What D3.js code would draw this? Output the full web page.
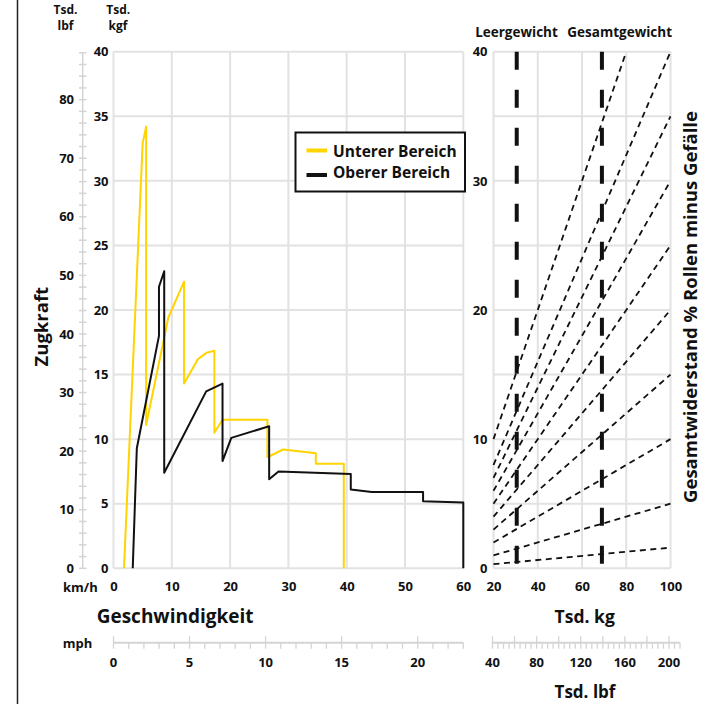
<!DOCTYPE html>
<html>
<head>
<meta charset="utf-8">
<script src="https://cdnjs.cloudflare.com/ajax/libs/d3/7.8.5/d3.min.js"></script>
<style>
body { margin: 0; background: #fff; }
svg { display: block; font-family: "Open Sans", sans-serif; font-weight: 700; fill: #111; }
</style>
</head>
<body>
<div id="chart"></div>
<script>
// tick values
const speedTicks = [0, 10, 20, 30, 40, 50, 60];
const forceTicks = [0, 5, 10, 15, 20, 25, 30, 35, 40];
const forceLabelsRight = [0, 10, 20, 30, 40];
const lbfLabels = [0, 10, 20, 30, 40, 50, 60, 70, 80];
const mphLabels = [0, 5, 10, 15, 20];
const kgTicks = [20, 40, 60, 80, 100];
const lbfBottomLabels = [40, 80, 120, 160, 200];

// Zugkraft curves (km/h, Tsd. kgf)
const unterSpeed = [1.8, 5.0, 5.6, 5.6, 9.4, 12.1, 12.1, 14.5, 16.0, 17.3, 17.3, 18.7, 26.4, 26.4, 29.1, 34.7, 34.7, 39.5, 39.5];
const unterForce = [0, 32.9, 34.2, 11.1, 19.4, 22.2, 14.3, 16.2, 16.7, 16.85, 10.5, 11.5, 11.5, 8.6, 9.2, 8.9, 8.1, 8.1, 0];
const oberSpeed = [3.3, 4.0, 7.8, 7.8, 8.7, 8.7, 15.9, 18.7, 18.7, 20.2, 26.7, 26.7, 28.3, 40.7, 40.7, 44.3, 53.1, 53.1, 60, 60];
const oberForce = [0, 9.3, 18.0, 21.8, 23.0, 7.4, 13.7, 14.3, 8.3, 10.1, 11.0, 6.9, 7.5, 7.3, 6.1, 5.9, 5.9, 5.2, 5.1, 0];

// Gesamtwiderstand in % (force = weight * percent / 100)
const gradePercents = [1.6, 5, 10, 15, 20, 25, 30, 35, 40, 50];
// Leergewicht / Gesamtgewicht in Tsd. kg
const weightMarks = [30.5, 69];
const weightNames = ["Leergewicht", "Gesamtgewicht"];

const yellow = "#ffd400";
const gridColor = "#e2e2e2";
const axisColor = "#d4d4d4";

const svg = d3.select("#chart").append("svg")
    .attr("width", 714)
    .attr("height", 704);

// scales
const x = d3.scaleLinear().domain([0, 60]).range([113.5, 463.3]);
const y = d3.scaleLinear().domain([0, 40]).range([568.3, 51.7]);
const yLbf = d3.scaleLinear().domain([0, 40 * 2.20462]).range([568.3, 51.7]);
const xMph = d3.scaleLinear().domain([0, 23]).range([113.5, 463.3]);
const xKg = d3.scaleLinear().domain([20, 100]).range([493.5, 670.5]);
const xLbf = d3.scaleLinear().domain([40, 210]).range([492.5, 680]);

// left frame line
svg.append("line")
    .attr("x1", 17.5).attr("x2", 17.5)
    .attr("y1", 0).attr("y2", 704)
    .attr("stroke", "#222").attr("stroke-width", 1.5);

// grids
function grid(xs, xTicks, ys, yTicks) {
    const g = svg.append("g").attr("stroke", gridColor).attr("stroke-width", 2);
    g.selectAll(".v").data(xTicks).enter().append("line")
        .attr("x1", d => xs(d)).attr("x2", d => xs(d))
        .attr("y1", ys.range()[0]).attr("y2", ys.range()[1]);
    g.selectAll(".h").data(yTicks).enter().append("line")
        .attr("x1", xs.range()[0]).attr("x2", xs.range()[1])
        .attr("y1", d => ys(d)).attr("y2", d => ys(d));
}
grid(x, speedTicks, y, forceTicks);
grid(xKg, kgTicks, y, forceTicks);

// axis label helper
function styleAxis(g, size) {
    g.select(".domain").remove();
    g.selectAll("text")
        .attr("fill", "#111")
        .style("font-size", size + "px")
        .style("font-weight", 700)
        .style("font-family", '"Open Sans", sans-serif');
}

svg.append("g")
    .attr("transform", "translate(0,568.3)")
    .call(d3.axisBottom(x).tickValues(speedTicks).tickSize(0).tickPadding(13.4))
    .call(g => styleAxis(g, 13));

svg.append("g")
    .attr("transform", "translate(113.5,0)")
    .call(d3.axisLeft(y).tickValues(forceTicks).tickSize(0).tickPadding(5))
    .call(g => styleAxis(g, 13));

svg.append("g")
    .attr("transform", "translate(0,568.3)")
    .call(d3.axisBottom(xKg).tickValues(kgTicks).tickSize(0).tickPadding(13.4))
    .call(g => styleAxis(g, 13));

svg.append("g")
    .attr("transform", "translate(493.5,0)")
    .call(d3.axisLeft(y).tickValues(forceLabelsRight).tickSize(0).tickPadding(6))
    .call(g => styleAxis(g, 13));

// left lbf axis
const lbfG = svg.append("g");
lbfG.append("line")
    .attr("x1", 82.7).attr("x2", 82.7)
    .attr("y1", yLbf(0)).attr("y2", yLbf(88))
    .attr("stroke", axisColor).attr("stroke-width", 1.5);
lbfG.selectAll(".t").data(d3.range(0, 89, 2)).enter().append("line")
    .attr("x1", 79).attr("x2", 86.5)
    .attr("y1", d => yLbf(d)).attr("y2", d => yLbf(d))
    .attr("stroke", axisColor).attr("stroke-width", 1.5);
lbfG.selectAll("text").data(lbfLabels).enter().append("text")
    .attr("x", 74).attr("y", d => yLbf(d))
    .attr("dy", "0.35em")
    .attr("text-anchor", "end")
    .style("font-size", "13px")
    .text(d => d);

// bottom secondary axes (mph, Tsd. lbf)
function secondaryAxis(scale, ticks, majorEvery, labels) {
    const g = svg.append("g");
    g.append("line")
        .attr("x1", scale.range()[0]).attr("x2", scale.range()[1])
        .attr("y1", 642.7).attr("y2", 642.7)
        .attr("stroke", axisColor).attr("stroke-width", 2);
    g.selectAll(".t").data(ticks).enter().append("line")
        .attr("x1", d => scale(d)).attr("x2", d => scale(d))
        .attr("y1", d => d % majorEvery === 0 ? 636.2 : 642.7)
        .attr("y2", 648.7)
        .attr("stroke", axisColor).attr("stroke-width", 1.3);
    g.selectAll("text").data(labels).enter().append("text")
        .attr("x", d => scale(d)).attr("y", 667.3)
        .attr("text-anchor", "middle")
        .style("font-size", "13px")
        .text(d => d);
}
secondaryAxis(xMph, d3.range(0, 24, 1), 5, mphLabels);
secondaryAxis(xLbf, d3.range(40, 211, 5), 20, lbfBottomLabels);

// resistance lines
const lineR = d3.line().x(d => xKg(d[0])).y(d => y(d[1]));
svg.append("g").selectAll("path").data(gradePercents).enter().append("path")
    .attr("d", p => {
        const wEnd = Math.min(100, 40 * 100 / p);
        return lineR([[20, 20 * p / 100], [wEnd, wEnd * p / 100]]);
    })
    .attr("fill", "none")
    .attr("stroke", "#111")
    .attr("stroke-width", 1.8)
    .attr("stroke-dasharray", "6,4.5");

// weight marks
svg.append("g").selectAll("line").data(weightMarks).enter().append("line")
    .attr("x1", d => xKg(d)).attr("x2", d => xKg(d))
    .attr("y1", y(40)).attr("y2", y(0))
    .attr("stroke", "#111")
    .attr("stroke-width", 4)
    .attr("stroke-dasharray", "18,20");

svg.append("g").selectAll("text").data(weightNames).enter().append("text")
    .attr("x", (d, i) => i === 0 ? 516.5 : 619.7)
    .attr("y", 37.3)
    .attr("text-anchor", "middle")
    .style("font-size", "13.5px")
    .text(d => d);

// Zugkraft curves
const line = d3.line().x(d => x(d[0])).y(d => y(d[1]));
svg.append("path")
    .datum(unterSpeed.map((s, i) => [s, unterForce[i]]))
    .attr("d", line)
    .attr("fill", "none")
    .attr("stroke", yellow)
    .attr("stroke-width", 2)
    .attr("stroke-linejoin", "round");
svg.append("path")
    .datum(oberSpeed.map((s, i) => [s, oberForce[i]]))
    .attr("d", line)
    .attr("fill", "none")
    .attr("stroke", "#111")
    .attr("stroke-width", 2)
    .attr("stroke-linejoin", "round");

// legend
const legend = svg.append("g");
legend.append("rect")
    .attr("x", 295.5).attr("y", 132.5)
    .attr("width", 169.5).attr("height", 59)
    .attr("fill", "#fff").attr("stroke", "#111").attr("stroke-width", 2);
const legendItems = [["Unterer Bereich", yellow], ["Oberer Bereich", "#111"]];
legendItems.forEach((item, i) => {
    legend.append("line")
        .attr("x1", 306.5).attr("x2", 327)
        .attr("y1", 150.5 + i * 24.5).attr("y2", 150.5 + i * 24.5)
        .attr("stroke", item[1]).attr("stroke-width", 4);
    legend.append("text")
        .attr("x", 333).attr("y", 156.5 + i * 21.5)
        .style("font-size", "15.5px")
        .text(item[0]);
});

// axis titles and unit labels
function label(txt, xPos, yPos, size, anchor, rotate) {
    const t = svg.append("text")
        .attr("text-anchor", anchor || "start")
        .style("font-size", size + "px")
        .text(txt);
    if (rotate) {
        t.attr("transform", `translate(${xPos},${yPos}) rotate(-90)`);
    } else {
        t.attr("x", xPos).attr("y", yPos);
    }
}
label("Tsd.", 65.5, 14, 12, "middle");
label("lbf", 65.5, 30, 12, "middle");
label("Tsd.", 118.3, 14, 12, "middle");
label("kgf", 118, 30, 12, "middle");
label("Zugkraft", 48, 326.7, 18.5, "middle", true);
label("km/h", 63, 592, 13);
label("Geschwindigkeit", 96.7, 623, 19);
label("mph", 62.7, 648, 13);
label("Tsd. kg", 584.7, 623.3, 17.5, "middle");
label("Tsd. lbf", 585, 698, 17, "middle");
label("Gesamtwiderstand % Rollen minus Gefälle", 697, 307, 18.5, "middle", true);
</script>
</body>
</html>
